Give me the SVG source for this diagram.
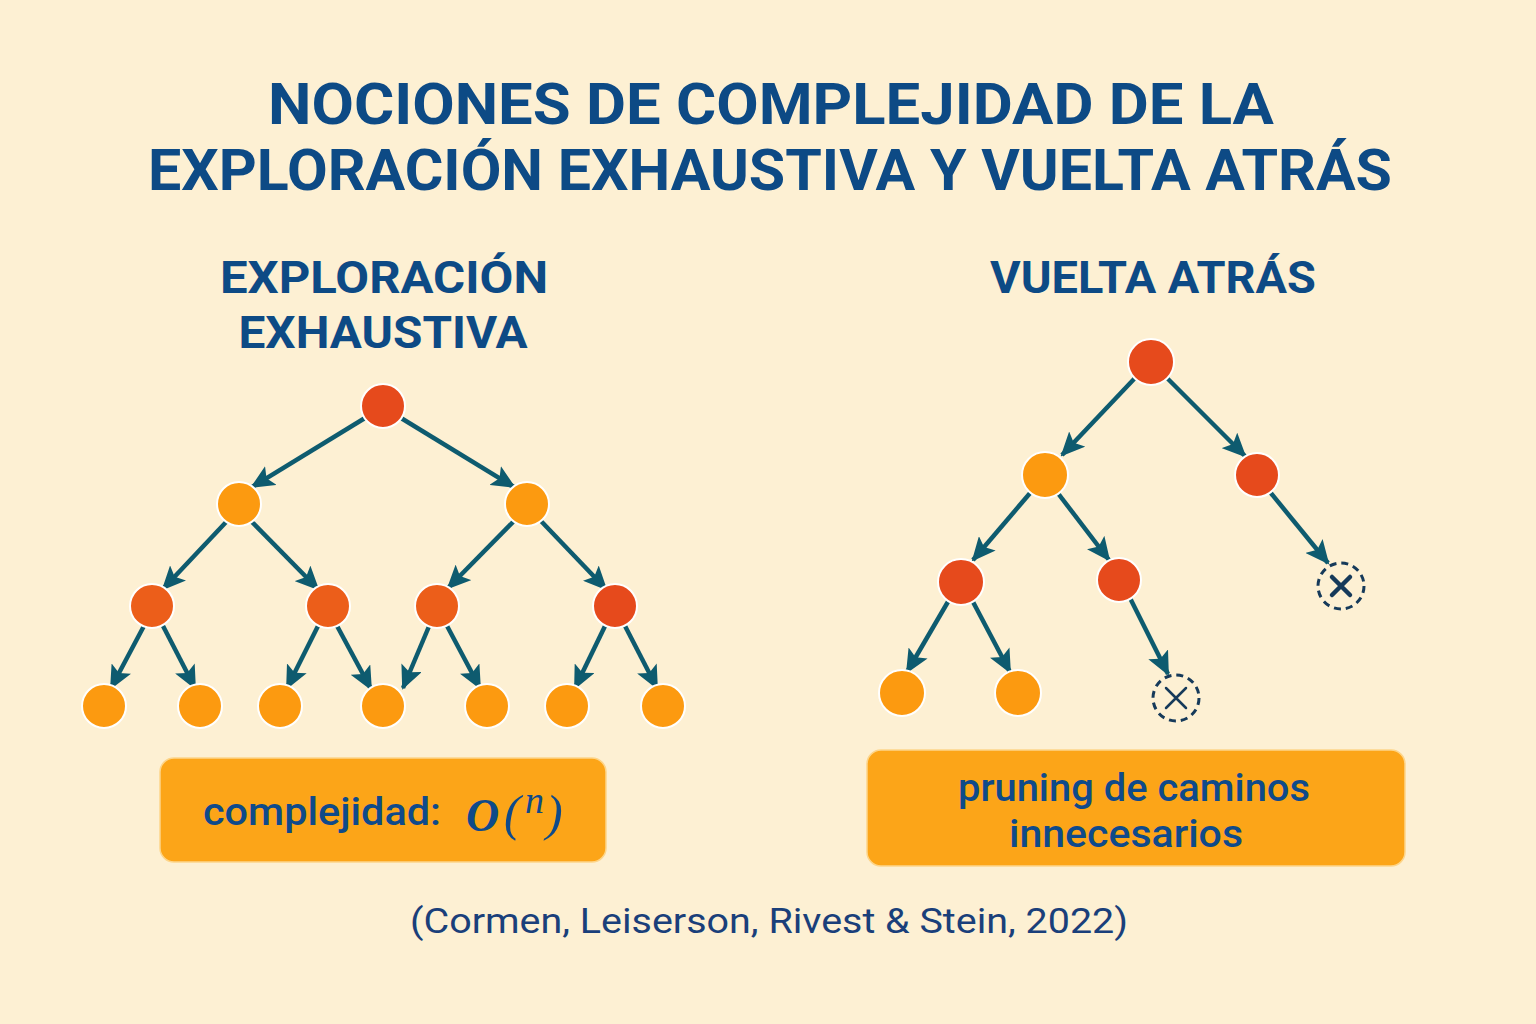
<svg xmlns="http://www.w3.org/2000/svg" width="1536" height="1024" viewBox="0 0 1536 1024">
<defs>
<marker id="ah" markerWidth="24" markerHeight="22" refX="22" refY="11" orient="auto" markerUnits="userSpaceOnUse">
<path d="M0,0 L24,11 L0,22 L5,11 Z" fill="#0e5b6f"/>
</marker>
</defs>
<style>
.bg{fill:#fdf0d3}
.title{font-family:Roboto,"Liberation Sans",sans-serif;font-weight:700;fill:#0d4a85;text-anchor:middle}
.sub{font-family:Roboto,"Liberation Sans",sans-serif;font-weight:700;fill:#0d4a85;text-anchor:middle;font-size:44px}
.red{fill:#e64a1c;stroke:#fff;stroke-width:2}
.red2{fill:#ec5e1a;stroke:#fff;stroke-width:2}
.org{fill:#fc9a10;stroke:#fff;stroke-width:2}
.edge{stroke:#0e5b6f;stroke-width:4.5;fill:none;marker-end:url(#ah)}
.box{fill:#fca518;stroke:#fdd58a;stroke-width:1.5}
.btxt{font-family:Roboto,"Liberation Sans",sans-serif;font-weight:500;fill:#0f4a8a;font-size:38px;text-anchor:middle}
.math{font-family:"Liberation Serif",serif;fill:#0f4a8a;font-style:italic}
.cut{fill:none;stroke:#163a5a;stroke-width:3;stroke-dasharray:7,5}
.x{stroke:#163a5a;fill:none;stroke-linecap:round}
.cite{font-family:Roboto,"Liberation Sans",sans-serif;fill:#1a3f7a;font-size:35px;text-anchor:middle}
</style>
<rect class="bg" width="1536" height="1024"/>
<g id="title">
<text class="title" x="771" y="124" font-size="58" textLength="1006" lengthAdjust="spacingAndGlyphs">NOCIONES DE COMPLEJIDAD DE LA</text>
<text class="title" x="770" y="190" font-size="58" textLength="1244" lengthAdjust="spacingAndGlyphs">EXPLORACIÓN EXHAUSTIVA Y VUELTA ATRÁS</text>
</g>
<g id="subtitle-left">
<text class="sub" x="384" y="293" textLength="328" lengthAdjust="spacingAndGlyphs">EXPLORACIÓN</text>
<text class="sub" x="383" y="348" textLength="289" lengthAdjust="spacingAndGlyphs">EXHAUSTIVA</text>
</g>
<g id="subtitle-right">
<text class="sub" x="1153" y="293" textLength="326" lengthAdjust="spacingAndGlyphs">VUELTA ATRÁS</text>
</g>
<g id="connectors">
<line class="edge" x1="365" y1="418" x2="252" y2="487"/>
<line class="edge" x1="401" y1="418" x2="514" y2="487"/>
<line class="edge" x1="228" y1="520" x2="163" y2="589"/>
<line class="edge" x1="250" y1="520" x2="318" y2="589"/>
<line class="edge" x1="515" y1="520" x2="448" y2="588"/>
<line class="edge" x1="540" y1="520" x2="606" y2="589"/>
<line class="edge" x1="145" y1="624" x2="111" y2="688"/>
<line class="edge" x1="162" y1="624" x2="195" y2="688"/>
<line class="edge" x1="319" y1="624" x2="287" y2="688"/>
<line class="edge" x1="336" y1="624" x2="371" y2="689"/>
<line class="edge" x1="430" y1="624" x2="403" y2="688"/>
<line class="edge" x1="446" y1="624" x2="480" y2="688"/>
<line class="edge" x1="606" y1="624" x2="575" y2="688"/>
<line class="edge" x1="624" y1="624" x2="657" y2="688"/>
<line class="edge" x1="1135" y1="378" x2="1062" y2="455"/>
<line class="edge" x1="1167" y1="378" x2="1245" y2="456"/>
<line class="edge" x1="1031" y1="492" x2="973" y2="560"/>
<line class="edge" x1="1057" y1="492" x2="1109" y2="560"/>
<line class="edge" x1="1270" y1="492" x2="1328" y2="563"/>
<line class="edge" x1="949" y1="600" x2="907" y2="672"/>
<line class="edge" x1="972" y1="600" x2="1010" y2="672"/>
<line class="edge" x1="1130" y1="598" x2="1168" y2="674"/>
</g>
<g id="left-root"><circle class="red" cx="383" cy="406" r="22"/></g>
<g id="left-l2a"><circle class="org" cx="239" cy="504" r="22"/></g>
<g id="left-l2b"><circle class="org" cx="527" cy="504" r="22"/></g>
<g id="left-l3a"><circle class="red2" cx="152" cy="606" r="22"/></g>
<g id="left-l3b"><circle class="red2" cx="328" cy="606" r="22"/></g>
<g id="left-l3c"><circle class="red2" cx="437" cy="606" r="22"/></g>
<g id="left-l3d"><circle class="red" cx="615" cy="606" r="22"/></g>
<g id="left-leaf1"><circle class="org" cx="104" cy="706" r="22"/></g>
<g id="left-leaf2"><circle class="org" cx="200" cy="706" r="22"/></g>
<g id="left-leaf3"><circle class="org" cx="280" cy="706" r="22"/></g>
<g id="left-leaf4"><circle class="org" cx="383" cy="706" r="22"/></g>
<g id="left-leaf5"><circle class="org" cx="487" cy="706" r="22"/></g>
<g id="left-leaf6"><circle class="org" cx="567" cy="706" r="22"/></g>
<g id="left-leaf7"><circle class="org" cx="663" cy="706" r="22"/></g>
<g id="right-root"><circle class="red" cx="1151" cy="362" r="23"/></g>
<g id="right-l2a"><circle class="org" cx="1045" cy="475" r="23"/></g>
<g id="right-l2b"><circle class="red" cx="1257" cy="475" r="22"/></g>
<g id="right-l3a"><circle class="red" cx="961" cy="582" r="23"/></g>
<g id="right-l3b"><circle class="red" cx="1119" cy="580" r="22"/></g>
<g id="right-leaf1"><circle class="org" cx="902" cy="693" r="23"/></g>
<g id="right-leaf2"><circle class="org" cx="1018" cy="693" r="23"/></g>
<g id="right-cut1">
<circle class="cut" cx="1341" cy="586" r="23"/>
<path class="x" stroke-width="4.5" d="M1332,577 L1350,595 M1350,577 L1332,595"/>
</g>
<g id="right-cut2">
<circle class="cut" cx="1176" cy="698" r="23"/>
<path class="x" stroke-width="2.5" d="M1166,688 L1186,708 M1186,688 L1166,708"/>
</g>
<g id="box-left">
<rect class="box" x="160" y="758" width="446" height="104" rx="14"/>
<text class="btxt" x="322" y="825" font-size="40" textLength="238" lengthAdjust="spacingAndGlyphs">complejidad:</text>
<text class="math" x="466" y="831" font-size="46" font-weight="bold">O</text>
<text class="math" x="504" y="830" font-size="50">(</text>
<text class="math" x="525" y="813" font-size="38">n</text>
<text class="math" x="546" y="830" font-size="50">)</text>
</g>
<g id="box-right">
<rect class="box" x="867" y="750" width="538" height="116" rx="14"/>
<text class="btxt" x="1134" y="801" textLength="352" lengthAdjust="spacingAndGlyphs">pruning de caminos</text>
<text class="btxt" x="1126" y="847" textLength="234" lengthAdjust="spacingAndGlyphs">innecesarios</text>
</g>
<g id="citation">
<text class="cite" x="769" y="933" textLength="718" lengthAdjust="spacingAndGlyphs">(Cormen, Leiserson, Rivest &amp; Stein, 2022)</text>
</g>
</svg>
